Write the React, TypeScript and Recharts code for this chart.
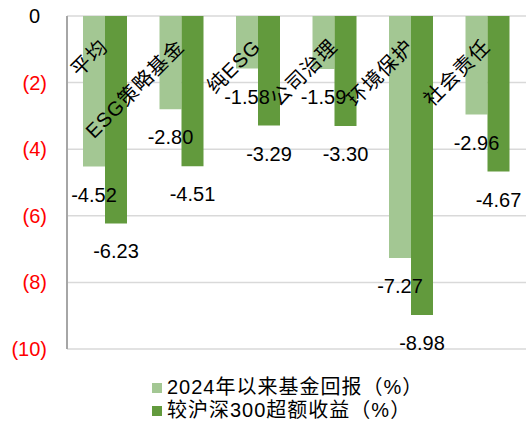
import React from "react";
import {
  BarChart,
  Bar,
  XAxis,
  YAxis,
  CartesianGrid,
  Legend,
  LabelList,
} from "recharts";

const categories = ["平均", "ESG策略基金", "纯ESG", "公司治理", "环境保护", "社会责任"];
const fundReturn = [-4.52, -2.8, -1.58, -1.59, -7.27, -2.96];
const excessReturn = [-6.23, -4.51, -3.29, -3.3, -8.98, -4.67];
const yTicks = [0, -2, -4, -6, -8, -10];
const seriesNames = ["2024年以来基金回报（%）", "较沪深300超额收益（%）"];

const LIGHT = "#A3C793";
const DARK = "#629A3D";
const FONT = '"Liberation Sans", Arial, "Noto Sans CJK SC", sans-serif';

const chartData = categories.map((name, i) => ({
  name,
  fund: fundReturn[i],
  excess: excessReturn[i],
}));

// category names sit under the top axis, rotated; anchored on the dark bar's left edge (= category center)
const CategoryLabel = ({ x, y, height, value }: any) => {
  const top = Math.min(y, y + height);
  const ax = x + 4;
  const ay = top + 32;
  return (
    <text
      x={ax}
      y={ay}
      transform={`rotate(-45, ${ax}, ${ay})`}
      textAnchor="end"
      fontSize={20}
      letterSpacing={1}
      fontFamily={FONT}
      fill="#000"
    >
      {value}
    </text>
  );
};

// excel style: 0 and (2), negatives in red
const ValueTick = ({ x, y, payload }: any) => {
  const v = payload.value;
  const neg = v < 0;
  return (
    <text
      x={neg ? x - 12 : x - 19}
      y={y}
      dy={7}
      textAnchor="end"
      fontSize={20}
      fontFamily={FONT}
      fill={neg ? "#FF0000" : "#000"}
    >
      {neg ? `(${-v})` : `${v}`}
    </text>
  );
};

const BarValue = ({ x, y, width, height, value }: any) => {
  const bottom = Math.max(y, y + height);
  return (
    <text
      x={x + width / 2}
      y={bottom + 28}
      dy={7}
      textAnchor="middle"
      fontSize={20}
      fontFamily={FONT}
      fill="#000"
    >
      {Number(value).toFixed(2)}
    </text>
  );
};

const LegendBox = () => (
  <div
    style={{
      fontFamily: FONT,
      fontSize: 20,
      letterSpacing: 1,
      color: "#000",
      lineHeight: "23px",
    }}
  >
    {seriesNames.map((n, i) => (
      <div key={n} style={{ display: "flex", alignItems: "center", whiteSpace: "nowrap" }}>
        <span
          style={{
            display: "inline-block",
            width: 10,
            height: 10,
            background: i === 0 ? LIGHT : DARK,
            marginRight: 5,
          }}
        />
        {n}
      </div>
    ))}
  </div>
);

export default function App() {
  return (
    <div style={{ position: "absolute", left: 0, top: 0, background: "#fff" }}>
      <BarChart
        width={526}
        height={423}
        data={chartData}
        margin={{ top: 16, right: 0, bottom: 74, left: 0 }}
        barGap={0}
        barSize={22}
      >
        <CartesianGrid vertical={false} stroke="#D9D9D9" strokeWidth={1.5} />
        <XAxis
          dataKey="name"
          orientation="top"
          height={0}
          tickLine={false}
          axisLine={{ stroke: "#A6A6A6", strokeWidth: 2 }}
          tick={false}
          interval={0}
        />
        <YAxis
          domain={[-10, 0]}
          ticks={yTicks}
          width={67}
          tickLine={false}
          axisLine={{ stroke: "#A6A6A6", strokeWidth: 2 }}
          tick={<ValueTick />}
        />
        <Legend
          layout="vertical"
          align="center"
          verticalAlign="middle"
          content={<LegendBox />}
          wrapperStyle={{ left: 152, top: 376, width: "auto" }}
        />
        <Bar dataKey="fund" name={seriesNames[0]} fill={LIGHT} isAnimationActive={false}>
          <LabelList dataKey="fund" content={<BarValue />} />
        </Bar>
        <Bar dataKey="excess" name={seriesNames[1]} fill={DARK} isAnimationActive={false}>
          <LabelList dataKey="excess" content={<BarValue />} />
          <LabelList dataKey="name" content={<CategoryLabel />} />
        </Bar>
      </BarChart>
    </div>
  );
}
